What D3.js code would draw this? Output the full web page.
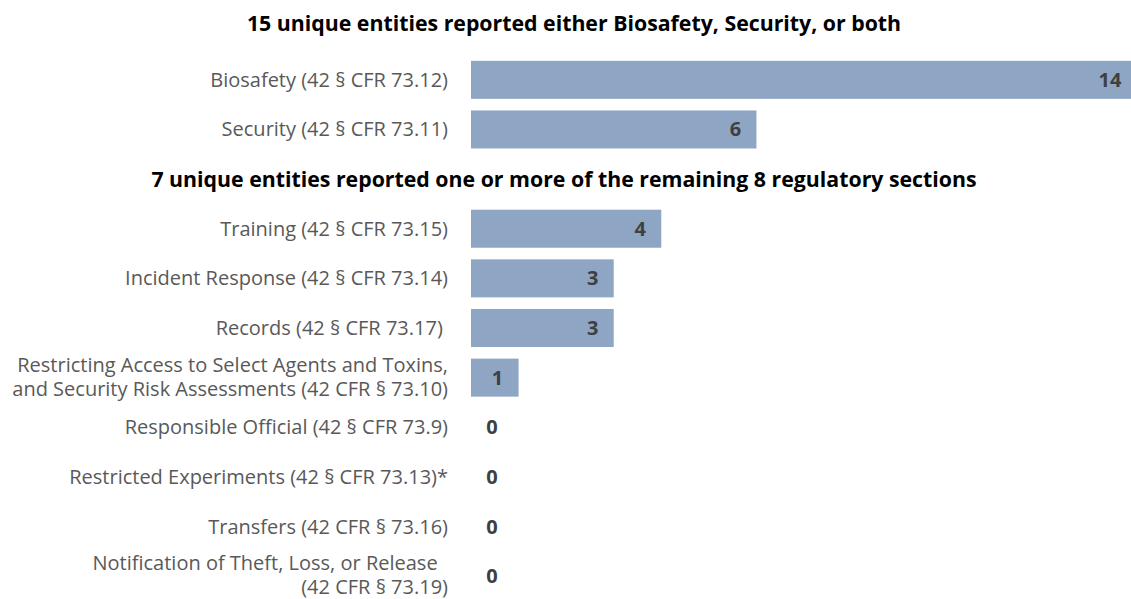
<!DOCTYPE html>
<html>
<head>
<meta charset="utf-8">
<script src="https://cdn.jsdelivr.net/npm/d3@7"></script>
<style>
  body { margin: 0; background: #fff; }
  text { font-family: "Open Sans", sans-serif; }
</style>
</head>
<body>
<div id="chart"></div>
<script>
// chart data
const titles = [
  "15 unique entities reported either Biosafety, Security, or both",
  "7 unique entities reported one or more of the remaining 8 regulatory sections"
]
const keys = ["bio", "sec", "gap", "train", "incid", "rec", "restr", "resp", "exper", "trans", "notif"]
const labels = [
  ["Biosafety (42 § CFR 73.12)"],
  ["Security (42 § CFR 73.11)"],
  [],
  ["Training (42 § CFR 73.15)"],
  ["Incident Response (42 § CFR 73.14)"],
  ["Records (42 § CFR 73.17) "],
  ["Restricting Access to Select Agents and Toxins,", "and Security Risk Assessments (42 CFR § 73.10)"],
  ["Responsible Official (42 § CFR 73.9)"],
  ["Restricted Experiments (42 § CFR 73.13)*"],
  ["Transfers (42 CFR § 73.16)"],
  ["Notification of Theft, Loss, or Release\u00a0\u00a0", "(42 CFR § 73.19)"]
]
const values = [14, 6, null, 4, 3, 3, 1, 0, 0, 0, 0]

const W = 1131, H = 599
const LEFT = 471

const svg = d3.select("#chart").append("svg")
    .attr("width", W)
    .attr("height", H)

const rows = keys.map((k, i) => ({ key: k, label: labels[i], value: values[i] }))
const bars = rows.filter(d => d.value !== null)

// the longest bar runs a little past the right edge
const x = d3.scaleLinear()
    .domain([0, 14])
    .range([LEFT, 1137])

const y = d3.scaleBand()
    .domain(keys)
    .range([55, 601])
    .paddingInner(0.234)
    .paddingOuter(0.117)

const mid = k => y(k) + y.bandwidth() / 2

// titles
svg.append("text")
    .attr("x", 574)
    .attr("y", 24)
    .attr("dy", "0.35em")
    .attr("text-anchor", "middle")
    .style("font-size", "21.3px")
    .style("font-weight", "bold")
    .attr("fill", "#000")
    .text(titles[0])

svg.append("text")
    .attr("x", 564)
    .attr("y", mid("gap"))
    .attr("dy", "0.35em")
    .attr("text-anchor", "middle")
    .style("font-size", "21.3px")
    .style("font-weight", "bold")
    .attr("fill", "#000")
    .text(titles[1])

// bars
svg.append("g").selectAll("rect")
    .data(bars.filter(d => d.value > 0))
    .join("rect")
    .attr("x", x(0))
    .attr("y", d => y(d.key))
    .attr("width", d => x(d.value) - x(0))
    .attr("height", y.bandwidth())
    .attr("fill", "#8ea5c4")

// category labels
const lab = svg.append("g").selectAll("text")
    .data(bars)
    .join("text")
    .attr("text-anchor", "end")
    .style("font-size", "20px")
    .attr("fill", "#595959")
    .attr("y", d => mid(d.key) - (d.label.length - 1) * 13)

lab.selectAll("tspan")
    .data(d => d.label)
    .join("tspan")
    .attr("x", 448)
    .attr("dy", (d, i) => i === 0 ? "0.35em" : "24px")
    .style("white-space", "pre")
    .text(d => d)

// value labels
svg.append("g").selectAll("text")
    .data(bars)
    .join("text")
    .attr("x", d => d.value > 0 ? Math.min(x(d.value), W) - 21 : x(0) + 21)
    .attr("y", d => mid(d.key))
    .attr("dy", "0.35em")
    .attr("text-anchor", "middle")
    .style("font-size", "20px")
    .style("font-weight", "bold")
    .attr("fill", "#404040")
    .text(d => d.value)
</script>
</body>
</html>
